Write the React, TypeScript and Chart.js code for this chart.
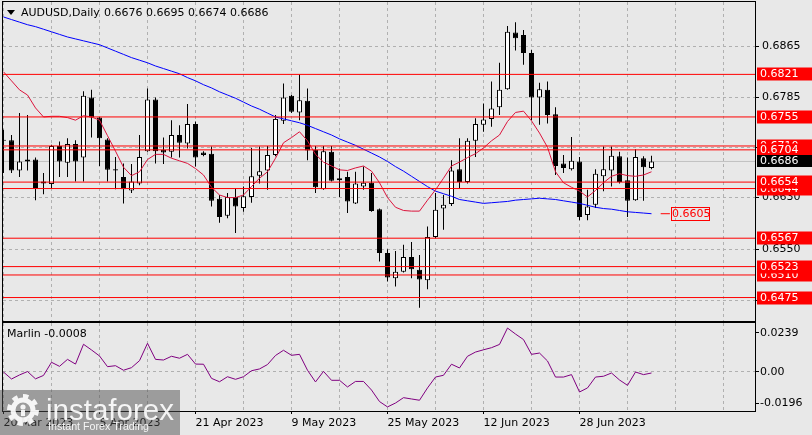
import React, { useEffect, useRef } from 'react';
import { Chart, registerables } from 'chart.js';

Chart.register(...registerables);

const FONT = "'DejaVu Sans', 'Noto Sans', sans-serif";
const BG = '#e8e8e8';
const GRID = '#b0b0b0';

const symbolTitle = 'AUDUSD,Daily';
const oscName = 'Marlin';

const opens = [0.6719,0.6719,0.6672,0.6686,0.6689,0.6652,0.6651,0.6710,0.6684,0.6713,
0.6692,0.6785,0.6754,0.6720,0.6674,0.6662,0.6641,0.6652,0.6702,0.6782,
0.6704,0.6701,0.6727,0.6714,0.6744,0.6700,0.6698,0.6628,0.6602,0.6631,
0.6614,0.6631,0.6664,0.6672,0.6696,0.6749,0.6788,0.6762,0.6780,0.6704,
0.6643,0.6701,0.6660,0.6662,0.6621,0.6647,0.6653,0.6612,0.6544,0.6505,
0.6515,0.6538,0.6518,0.6502,0.6569,0.6613,0.6620,0.6674,0.6654,0.6718,
0.6743,0.6752,0.6770,0.6798,0.6886,0.6882,0.6854,0.6785,0.6797,0.6759,
0.6683,0.6674,0.6686,0.6603,0.6619,0.6663,0.6672,0.6694,0.6657,0.6626,
0.6691,0.6676];
const highs = [0.6735,0.6727,0.6761,0.6758,0.6692,0.6668,0.6712,0.6717,0.6722,0.6719,
0.6795,0.6797,0.6755,0.6722,0.6693,0.6683,0.6682,0.6727,0.6799,0.6785,
0.6723,0.6750,0.6742,0.6775,0.6748,0.6702,0.6709,0.6634,0.6637,0.6644,
0.6647,0.6707,0.6709,0.6710,0.6758,0.6807,0.6789,0.6821,0.6799,0.6710,
0.6710,0.6710,0.6675,0.6670,0.6670,0.6678,0.6668,0.6613,0.6550,0.6547,
0.6557,0.6561,0.6541,0.6585,0.6637,0.6634,0.6688,0.6722,0.6722,0.6753,
0.6776,0.6810,0.6839,0.6896,0.6902,0.6890,0.6859,0.6808,0.6810,0.6770,
0.6696,0.6724,0.6693,0.6642,0.6674,0.6709,0.6709,0.6701,0.6692,0.6705,
0.6694,0.6695];
const lows = [0.6668,0.6668,0.6662,0.6672,0.6626,0.6635,0.6644,0.6662,0.6662,0.6655,
0.6655,0.6723,0.6679,0.6655,0.6643,0.6621,0.6637,0.6649,0.6701,0.6683,
0.6682,0.6692,0.6692,0.6706,0.6678,0.6694,0.6616,0.6591,0.6598,0.6575,
0.6608,0.6622,0.6652,0.6642,0.6694,0.6744,0.6761,0.6750,0.6688,0.6637,
0.6642,0.6655,0.6631,0.6606,0.6620,0.6642,0.6608,0.6531,0.6500,0.6492,
0.6514,0.6505,0.6459,0.6488,0.6567,0.6580,0.6617,0.6644,0.6652,0.6693,
0.6732,0.6740,0.6758,0.6797,0.6858,0.6836,0.6750,0.6743,0.6745,0.6665,
0.6668,0.6672,0.6595,0.6595,0.6614,0.6640,0.6647,0.6652,0.6600,0.6625,
0.6625,0.6674];
const closes = [0.6718,0.6672,0.6686,0.6689,0.6645,0.6655,0.6710,0.6686,0.6713,0.6686,
0.6788,0.6754,0.6722,0.6673,0.6672,0.6643,0.6655,0.6693,0.6782,0.6702,
0.6700,0.6727,0.6715,0.6744,0.6692,0.6696,0.6625,0.6600,0.6631,0.6616,
0.6632,0.6663,0.6671,0.6696,0.6752,0.6785,0.6763,0.6781,0.6703,0.6646,
0.6702,0.6656,0.6657,0.6624,0.6652,0.6653,0.6609,0.6544,0.6506,0.6515,
0.6538,0.6519,0.6503,0.6569,0.6611,0.6619,0.6672,0.6654,0.6718,0.6744,
0.6751,0.6768,0.6797,0.6887,0.6877,0.6854,0.6785,0.6798,0.6758,0.6679,
0.6676,0.6687,0.6600,0.6616,0.6667,0.6674,0.6695,0.6654,0.6625,0.6693,
0.6677,0.6686];

const fastMA = [0.6825,0.6811,0.6797,0.6789,0.6769,0.6755,0.6756,0.6756,0.6754,0.6750,
0.6757,0.6755,0.6750,0.6726,0.6702,0.6677,0.6664,0.6670,0.6689,0.6697,
0.6697,0.6691,0.6687,0.6683,0.6675,0.6665,0.6646,0.6634,0.6630,0.6630,
0.6634,0.6647,0.6660,0.6670,0.6691,0.6715,0.6723,0.6732,0.6718,0.6697,
0.6685,0.6679,0.6673,0.6672,0.6676,0.6679,0.6671,0.6653,0.6630,0.6615,
0.6610,0.6609,0.6609,0.6626,0.6642,0.6660,0.6679,0.6685,0.6692,0.6698,
0.6707,0.6718,0.6727,0.6748,0.6762,0.6764,0.6749,0.6730,0.6708,0.6670,
0.6653,0.6646,0.6640,0.6631,0.6641,0.6653,0.6663,0.6667,0.6664,0.6663,
0.6665,0.6670];
const slowMA = [0.6910,0.6906,0.6902,0.6898,0.6895,0.6891,0.6887,0.6883,0.6879,0.6876,
0.6873,0.6870,0.6867,0.6862,0.6857,0.6852,0.6847,0.6843,0.6839,0.6834,
0.6830,0.6826,0.6822,0.6816,0.6811,0.6805,0.6800,0.6794,0.6789,0.6784,
0.6778,0.6772,0.6767,0.6761,0.6755,0.6752,0.6749,0.6746,0.6742,0.6737,
0.6732,0.6727,0.6721,0.6716,0.6711,0.6705,0.6699,0.6693,0.6686,0.6678,
0.6671,0.6663,0.6655,0.6647,0.6640,0.6636,0.6632,0.6627,0.6625,0.6623,
0.6621,0.6622,0.6623,0.6624,0.6626,0.6627,0.6628,0.6629,0.6628,0.6627,
0.6625,0.6623,0.6621,0.6618,0.6615,0.6613,0.6612,0.6610,0.6608,0.6607,
0.6606,0.6605];
const marlin = [-0.0002,-0.0045,-0.0020,0.0001,-0.0044,-0.0023,0.0058,0.0033,0.0076,0.0047,
0.0169,0.0134,0.0097,0.0031,0.0037,0.0009,0.0025,0.0068,0.0175,0.0076,
0.0072,0.0095,0.0083,0.0107,0.0047,0.0046,-0.0041,-0.0062,-0.0031,-0.0047,
-0.0031,0.0006,0.0017,0.0044,0.0100,0.0132,0.0101,0.0107,0.0009,-0.0063,
0.0002,-0.0053,-0.0053,-0.0094,-0.0060,-0.0060,-0.0113,-0.0184,-0.0217,-0.0193,
-0.0160,-0.0168,-0.0176,-0.0100,-0.0033,-0.0022,0.0046,0.0023,0.0095,0.0121,
0.0135,0.0148,0.0168,0.0269,0.0232,0.0198,0.0107,0.0115,0.0066,-0.0033,
-0.0033,-0.0018,-0.0125,-0.0100,-0.0033,-0.0028,-0.0008,-0.0051,-0.0084,-0.0002,
-0.0018,-0.0008];

// horizontal levels, listed in label drawing order
const levels = [0.6821, 0.6755, 0.6710, 0.6704, 0.6644, 0.6654, 0.6567, 0.6510, 0.6523, 0.6475];
const bidPrice = 0.6686;
const maMarker = 0.6605;
const maMarkerFrom = 82.15;
const maMarkerTo = 83.3;

const priceTicks = [0.6865, 0.6785, 0.6708, 0.6630, 0.6550, 0.6470];
const marlinTicks = [0.0239, 0, -0.0196];
const marlinTickLabels = ['0.0239', '0.00', '-0.0196'];
const gridBars = [0, 6, 12, 18, 24, 30, 36, 42, 48, 54, 60, 66, 72, 78, 84, 90];
const dateBars = [0, 12, 24, 36, 48, 60, 72];
const dateLabels = ['20 Mar 2023', '5 Apr 2023', '21 Apr 2023', '9 May 2023', '25 May 2023', '12 Jun 2023', '28 Jun 2023'];

const X_MIN = -0.0625;
const X_MAX = 93.9375;
const Y_MIN = 0.643865;
const Y_MAX = 0.693322;
const M_MIN = -0.024215;
const M_MAX = 0.030006;

const W = 812;
const MAIN_H = 322;
const OSC_H = 113;

const bgPlugin = {
  id: 'bgfill',
  beforeDraw(chart: any) {
    const { ctx, width, height } = chart;
    ctx.save();
    ctx.fillStyle = BG;
    ctx.fillRect(0, 0, width, height);
    ctx.restore();
  },
};

function drawGear(ctx: CanvasRenderingContext2D, cx: number, cy: number) {
  const teeth = 8;
  const rO = 16, rI = 12.5;
  ctx.beginPath();
  for (let k = 0; k < teeth * 2; k++) {
    const a0 = (k / (teeth * 2)) * Math.PI * 2;
    const a1 = ((k + 1) / (teeth * 2)) * Math.PI * 2;
    const r = k % 2 === 0 ? rO : rI;
    ctx.arc(cx, cy, r, a0, a1);
  }
  ctx.closePath();
  ctx.moveTo(cx + 7.5, cy);
  ctx.arc(cx, cy, 7.5, 0, Math.PI * 2, true);
  ctx.fill('evenodd');
  ctx.beginPath();
  ctx.arc(cx, cy - 3, 2.6, 0, Math.PI * 2);
  ctx.fill();
  ctx.fillRect(cx - 2, cy, 4, 6);
}

export default function App() {
  const mainRef = useRef<HTMLCanvasElement>(null);
  const oscRef = useRef<HTMLCanvasElement>(null);

  useEffect(() => {
    document.body.style.margin = '0';
    document.body.style.background = BG;
    Chart.defaults.font.family = FONT;
    Chart.defaults.font.size = 11;
    Chart.defaults.color = '#000';

    const idx = opens.map((_, i) => i);
    const font = { family: FONT, size: 11 };

    const mainOverlay = {
      id: 'mainOverlay',
      afterDraw(chart: any) {
        const ctx: CanvasRenderingContext2D = chart.ctx;
        const ys = chart.scales.y;
        const xs = chart.scales.x;
        ctx.save();
        ctx.strokeStyle = '#000';
        ctx.lineWidth = 1;
        ctx.strokeRect(2.5, 1.5, 753, 320);

        ctx.font = `11px ${FONT}`;
        ctx.textBaseline = 'middle';
        ctx.textAlign = 'left';
        levels.forEach((l) => {
          const y = Math.round(ys.getPixelForValue(l));
          ctx.fillStyle = '#ff0000';
          ctx.fillRect(757, y - 6.5, 55, 13);
          ctx.fillStyle = '#ffffff';
          ctx.fillText(l.toFixed(4), 760, y + 0.5);
        });
        const yb = Math.round(ys.getPixelForValue(bidPrice));
        ctx.fillStyle = '#000';
        ctx.fillRect(757, yb - 6, 55, 12);
        ctx.fillStyle = '#ffffff';
        ctx.fillText(bidPrice.toFixed(4), 760, yb + 0.5);

        // MA marker label
        const ym = Math.round(ys.getPixelForValue(maMarker));
        const xm = Math.round(xs.getPixelForValue(maMarkerTo)) + 1;
        ctx.strokeStyle = '#ff0000';
        ctx.strokeRect(xm + 0.5, ym - 6.5, 38, 13);
        ctx.fillStyle = '#ff0000';
        ctx.fillText(maMarker.toFixed(4), xm + 1, ym + 0.5);

        // header
        ctx.fillStyle = '#000';
        ctx.beginPath();
        ctx.moveTo(7, 10);
        ctx.lineTo(15, 10);
        ctx.lineTo(11, 15);
        ctx.closePath();
        ctx.fill();
        ctx.fillText(symbolTitle, 21, 13.5);
        const last = opens.length - 1;
        const ohlc = [opens[last], highs[last], lows[last], closes[last]].map((v) => v.toFixed(4)).join(' ');
        ctx.fillText(ohlc, 104, 13.5);
        ctx.restore();
      },
    };

    const levelSets = levels.map((l) => ({
      type: 'line',
      data: [{ x: X_MIN, y: l }, { x: X_MAX, y: l }],
      borderColor: '#ff0000',
      borderWidth: 1,
      pointRadius: 0,
      order: 1,
    }));

    const main = new Chart(mainRef.current as HTMLCanvasElement, {
      type: 'bar',
      data: {
        datasets: [
          {
            type: 'line',
            data: [{ x: X_MIN, y: bidPrice }, { x: X_MAX, y: bidPrice }],
            borderColor: '#c0c0c0',
            borderWidth: 1,
            pointRadius: 0,
            order: 9,
          },
          {
            type: 'bar',
            data: idx.map((i) => ({ x: i, y: [lows[i], highs[i]] })),
            backgroundColor: '#000',
            borderWidth: 0,
            barThickness: 1,
            grouped: false,
            inflateAmount: 0,
            order: 8,
          },
          {
            type: 'bar',
            data: idx.map((i) => ({ x: i, y: [opens[i], closes[i]] })),
            backgroundColor: idx.map((i) => (closes[i] >= opens[i] ? '#ffffff' : '#000000')),
            borderColor: '#000',
            borderWidth: 1,
            borderSkipped: false,
            barThickness: 5,
            grouped: false,
            minBarLength: 1,
            inflateAmount: 0,
            order: 7,
          },
          {
            type: 'line',
            data: idx.map((i) => ({ x: i, y: slowMA[i] })),
            borderColor: '#0000ff',
            borderWidth: 1,
            pointRadius: 0,
            order: 6,
          },
          {
            type: 'line',
            data: idx.map((i) => ({ x: i, y: fastMA[i] })),
            borderColor: '#dc143c',
            borderWidth: 1,
            pointRadius: 0,
            order: 5,
          },
          ...levelSets,
          {
            type: 'line',
            data: [{ x: maMarkerFrom, y: maMarker }, { x: maMarkerTo, y: maMarker }],
            borderColor: '#ff0000',
            borderWidth: 1,
            pointRadius: 0,
            order: 1,
          },
        ] as any,
      },
      options: {
        animation: false,
        responsive: false,
        devicePixelRatio: 1,
        events: [],
        layout: { padding: { left: 3, top: 2, right: 0, bottom: 1 } },
        plugins: { legend: { display: false }, tooltip: { enabled: false } },
        scales: {
          x: {
            type: 'linear',
            min: X_MIN,
            max: X_MAX,
            offset: false,
            afterBuildTicks: (s: any) => { s.ticks = gridBars.map((v) => ({ value: v })); },
            afterFit: (s: any) => { s.height = 0; s.paddingLeft = 0; s.paddingRight = 0; },
            grid: { color: GRID, lineWidth: 1, drawTicks: false, offset: false },
            border: { display: false, dash: [3, 3] },
            ticks: { display: false },
          },
          y: {
            type: 'linear',
            position: 'right',
            min: Y_MIN,
            max: Y_MAX,
            afterBuildTicks: (s: any) => { s.ticks = priceTicks.map((v) => ({ value: v })); },
            afterFit: (s: any) => { s.width = 57; s.paddingTop = 0; s.paddingBottom = 0; },
            grid: { color: GRID, lineWidth: 1, drawTicks: true, tickLength: 4, tickColor: '#000', tickBorderDash: [] },
            border: { display: false, dash: [3, 3] },
            ticks: { padding: 3, color: '#000', font, autoSkip: false, callback: (v: any) => Number(v).toFixed(4) },
          },
        },
      } as any,
      plugins: [bgPlugin, mainOverlay],
    });

    const oscOverlay = {
      id: 'oscOverlay',
      afterDraw(chart: any) {
        const ctx: CanvasRenderingContext2D = chart.ctx;
        ctx.save();
        ctx.strokeStyle = '#000';
        ctx.lineWidth = 1;
        ctx.strokeRect(2.5, 0.5, 753, 89);
        ctx.font = `11px ${FONT}`;
        ctx.textBaseline = 'middle';
        ctx.fillStyle = '#000';
        ctx.fillText(`${oscName} ${marlin[marlin.length - 1].toFixed(4)}`, 7, 12.5);

        // watermark
        ctx.fillStyle = 'rgba(80,80,80,0.5)';
        ctx.fillRect(0, 68, 180, 45);
        ctx.fillStyle = 'rgba(255,255,255,0.9)';
        drawGear(ctx, 23, 88);
        ctx.textBaseline = 'alphabetic';
        ctx.font = "30px 'Liberation Sans', Arial, sans-serif";
        ctx.fillText('instaforex', 46, 98, 128);
        ctx.font = "11px 'Liberation Sans', Arial, sans-serif";
        ctx.fillText('Instant Forex Trading', 48, 108, 101);
        ctx.restore();
      },
    };

    const osc = new Chart(oscRef.current as HTMLCanvasElement, {
      type: 'line',
      data: {
        datasets: [
          {
            data: idx.map((i) => ({ x: i, y: marlin[i] })),
            borderColor: '#800080',
            borderWidth: 1,
            pointRadius: 0,
          },
        ],
      },
      options: {
        animation: false,
        responsive: false,
        devicePixelRatio: 1,
        events: [],
        layout: { padding: { left: 3, top: 1, right: 0, bottom: 0 } },
        plugins: { legend: { display: false }, tooltip: { enabled: false } },
        scales: {
          x: {
            type: 'linear',
            min: X_MIN,
            max: X_MAX,
            offset: false,
            afterBuildTicks: (s: any) => { s.ticks = gridBars.map((v) => ({ value: v })); },
            afterFit: (s: any) => { s.height = 24; s.paddingLeft = 0; s.paddingRight = 0; },
            grid: {
              color: GRID,
              lineWidth: 1,
              drawTicks: true,
              tickLength: 3,
              tickBorderDash: [],
              tickColor: (c: any) => (c.tick && dateBars.includes(c.tick.value) ? '#000' : 'rgba(0,0,0,0)'),
            },
            border: { display: false, dash: [3, 3] },
            ticks: {
              display: true,
              align: 'start',
              maxRotation: 0,
              minRotation: 0,
              autoSkip: false,
              padding: 3,
              color: '#000',
              font,
              callback: (v: any) => {
                const k = dateBars.indexOf(Number(v));
                return k >= 0 ? dateLabels[k] : '';
              },
            },
          },
          y: {
            type: 'linear',
            position: 'right',
            min: M_MIN,
            max: M_MAX,
            afterBuildTicks: (s: any) => { s.ticks = marlinTicks.map((v) => ({ value: v })); },
            afterFit: (s: any) => { s.width = 57; s.paddingTop = 0; s.paddingBottom = 0; },
            grid: {
              color: (c: any) => (c.tick && c.tick.value === 0 ? GRID : 'rgba(0,0,0,0)'),
              lineWidth: 1,
              drawTicks: true,
              tickLength: 4,
              tickColor: '#000',
              tickBorderDash: [],
            },
            border: { display: false, dash: [3, 3] },
            ticks: {
              padding: 1,
              color: '#000',
              font,
              autoSkip: false,
              callback: (v: any) => {
                const k = marlinTicks.indexOf(Number(v));
                return k >= 0 ? marlinTickLabels[k] : '';
              },
            },
          },
        },
      } as any,
      plugins: [bgPlugin, oscOverlay],
    });

    return () => {
      main.destroy();
      osc.destroy();
    };
  }, []);

  return (
    <div style={{ position: 'fixed', left: 0, top: 0, width: W, height: MAIN_H + OSC_H, background: BG }}>
      <canvas ref={mainRef} width={W} height={MAIN_H} style={{ position: 'absolute', left: 0, top: 0, width: W, height: MAIN_H }} />
      <canvas ref={oscRef} width={W} height={OSC_H} style={{ position: 'absolute', left: 0, top: MAIN_H, width: W, height: OSC_H }} />
    </div>
  );
}
